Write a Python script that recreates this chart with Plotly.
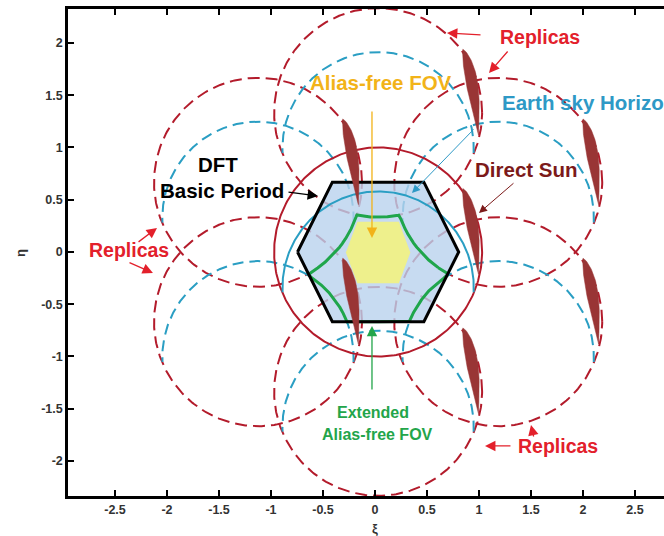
import numpy as np
import plotly.graph_objects as go

# ---------------- geometry in direction cosines (xi, eta) ----------------
origin = (0.03, 0.0)

# replica centres of the hexagonal DFT period (offsets from the origin)
replica_dx = [0.0, 1.155, 1.155, 0.0, -1.155, -1.155]
replica_dy = [1.333, 0.667, -0.667, -1.333, -0.667, 0.667]
unit_radius = 1.0

# Earth / sky horizon circle
earth_cy = -0.34
earth_radius = 0.92

# DFT basic period hexagon
period_half_width = 0.775
period_half_top = 0.44
period_half_height = 0.668

# alias-free FOV hexagon
afov_cy = -0.005
afov_half_width = 0.31
afov_half_top = 0.2
afov_half_height = 0.295

# direct sun and its aliases
sun_top = (-0.34, -0.06)
sun_bottom = (-0.19, -0.88)
sun_half_width = 0.055
sun_dx = [0.0, 0.0, 1.155, 1.155, 2.31, 1.155, 2.31]
sun_dy = [0.0, 1.333, 2.0, 0.667, 1.333, -0.667, 0.0]

# axis ticks
x_tick_vals = [-2.5, -2, -1.5, -1, -0.5, 0, 0.5, 1, 1.5, 2, 2.5]
x_tick_text = ["-2.5", "-2", "-1.5", "-1", "-0.5", "0", "0.5", "1", "1.5", "2", "2.5"]
y_tick_vals = [-2, -1.5, -1, -0.5, 0, 0.5, 1, 1.5, 2]
y_tick_text = ["-2", "-1.5", "-1", "-0.5", "0", "0.5", "1", "1.5", "2"]

# ---------------- colours ----------------
RED = "#B31B2B"
TEAL = "#2A9EC3"
HEX_FILL = "rgba(185,210,238,0.8)"
YELLOW = "#EEF08C"
GREEN = "#1FA64B"
SUN = "#993535"
TXT_RED = "#E3202B"
TXT_ALIAS = "#F2B319"
TXT_EARTH = "#2E99C6"
TXT_SUN = "#7C1A1A"
TXT_GREEN = "#23A54A"
FONT = "Liberation Sans, Arial, sans-serif"


def circle(cx, cy, r, t0=0.0, t1=2 * np.pi, n=361):
    t = np.linspace(t0, t1, n)
    return cx + r * np.cos(t), cy + r * np.sin(t)


def hexagon(cx, cy, hw, ht, hh):
    xs = [cx - hw, cx - ht, cx + ht, cx + hw, cx + ht, cx - ht, cx - hw]
    ys = [cy, cy + hh, cy + hh, cy, cy - hh, cy - hh, cy]
    return xs, ys


def leaf(p0, p1, hw, n=60):
    """Narrow crescent from p0 to p1, straight on the left, bulging right."""
    p0 = np.asarray(p0, float)
    p1 = np.asarray(p1, float)
    d = p1 - p0
    nrm = np.array([-d[1], d[0]]) / np.hypot(*d)
    t = np.linspace(0, 1, n)
    w = hw * np.sin(np.pi * t ** 0.7)
    c = p0[None, :] + t[:, None] * d[None, :]
    right = c + 1.5 * w[:, None] * nrm
    left = (c - 0.5 * w[:, None] * nrm)[::-1]
    pts = np.vstack([right, left, right[:1]])
    return pts[:, 0], pts[:, 1]


fig = go.Figure()
ox, oy = origin

# replica unit circles (dashed)
for dx, dy in zip(replica_dx, replica_dy):
    x, y = circle(ox + dx, oy + dy, unit_radius)
    fig.add_trace(go.Scatter(x=x, y=y, mode="lines",
                             line=dict(color=RED, width=2, dash="12px,6px"),
                             hoverinfo="skip"))

# replica Earth horizons (dashed upper arcs)
for dx, dy in zip(replica_dx, replica_dy):
    x, y = circle(ox + dx, earth_cy + dy, earth_radius, -0.05, np.pi + 0.05)
    fig.add_trace(go.Scatter(x=x, y=y, mode="lines",
                             line=dict(color=TEAL, width=2, dash="11px,6px"),
                             hoverinfo="skip"))

# DFT basic period (filled hexagon)
hx, hy = hexagon(ox, oy, period_half_width, period_half_top, period_half_height)
fig.add_trace(go.Scatter(x=hx, y=hy, mode="lines", fill="toself",
                         fillcolor=HEX_FILL, line=dict(width=0),
                         hoverinfo="skip"))

# alias-free FOV
ax_, ay_ = hexagon(ox, afov_cy, afov_half_width, afov_half_top, afov_half_height)
fig.add_trace(go.Scatter(x=ax_, y=ay_, mode="lines", fill="toself",
                         fillcolor=YELLOW, line=dict(width=0),
                         hoverinfo="skip"))

# central unit circle and Earth-sky horizon
x, y = circle(ox, oy, unit_radius)
fig.add_trace(go.Scatter(x=x, y=y, mode="lines", line=dict(color=RED, width=2),
                         hoverinfo="skip"))
x, y = circle(ox, earth_cy, earth_radius, -0.05, np.pi + 0.05)
fig.add_trace(go.Scatter(x=x, y=y, mode="lines", line=dict(color=TEAL, width=2),
                         hoverinfo="skip"))


# extended alias-free FOV: traced outward from an interior point
def inside_eaf(px, py):
    ok = np.abs(py - oy) <= period_half_height
    ok &= np.abs(px - ox) <= period_half_width - (period_half_width - period_half_top) * np.abs(py - oy) / period_half_height
    for i in (0, 1, 5):
        ok &= np.hypot(px - ox - replica_dx[i], py - oy - replica_dy[i]) >= unit_radius
    for i in (2, 4):
        ok &= np.hypot(px - ox - replica_dx[i], py - earth_cy - replica_dy[i]) >= earth_radius
    return ok


theta = np.linspace(0, 2 * np.pi, 1441)
s = np.linspace(0, 1.2, 2401)
gx0, gy0 = ox, -0.15
PX = gx0 + np.outer(np.cos(theta), s)
PY = gy0 + np.outer(np.sin(theta), s)
mask = inside_eaf(PX, PY)
first_out = np.argmin(mask, axis=1)
reach = s[np.maximum(first_out - 1, 0)]
fig.add_trace(go.Scatter(x=gx0 + reach * np.cos(theta), y=gy0 + reach * np.sin(theta),
                         mode="lines", line=dict(color=GREEN, width=3),
                         hoverinfo="skip"))

# DFT basic period outline
fig.add_trace(go.Scatter(x=hx, y=hy, mode="lines", line=dict(color="black", width=3),
                         hoverinfo="skip"))

# direct sun and aliases
for dx, dy in zip(sun_dx, sun_dy):
    lx, ly = leaf((ox + sun_top[0] + dx, oy + sun_top[1] + dy),
                  (ox + sun_bottom[0] + dx, oy + sun_bottom[1] + dy), sun_half_width)
    fig.add_trace(go.Scatter(x=lx, y=ly, mode="lines", fill="toself",
                             fillcolor=SUN, line=dict(color=SUN, width=0.5),
                             hoverinfo="skip"))

# ---------------- labels and arrows ----------------
def label(x, y, text, color, size=20, xanchor="center"):
    fig.add_annotation(x=x, y=y, text=text, showarrow=False, xanchor=xanchor,
                       yanchor="middle",
                       font=dict(family=FONT, size=size, color=color, weight="bold"))


def arrow(tail, tip, color, width=1.3):
    fig.add_annotation(x=tip[0], y=tip[1], ax=tail[0], ay=tail[1],
                       xref="x", yref="y", axref="x", ayref="y", text="",
                       showarrow=True, arrowhead=2, arrowsize=1.6,
                       arrowwidth=width, arrowcolor=color)


label(1.587, 2.06, "Replicas", TXT_RED, size=19.5)
arrow((1.029, 2.077), (0.692, 2.096), TXT_RED)
arrow((1.288, 1.933), (1.096, 1.713), TXT_RED)

label(0.058, 1.62, "Alias-free FOV", TXT_ALIAS, size=20.5)
arrow((-0.029, 1.359), (-0.029, 0.134), TXT_ALIAS)

label(1.20, 1.43, "Earth sky Horizon", TXT_EARTH, size=20.5, xanchor="left")
arrow((0.962, 1.187), (0.356, 0.565), TXT_EARTH, width=1.0)

label(-1.51, 0.835, "DFT", "black", size=20.5)
label(-1.47, 0.585, "Basic Period", "black", size=20.5)
arrow((-0.846, 0.574), (-0.548, 0.536), "black")

label(1.46, 0.785, "Direct Sun", TXT_SUN, size=20.5)
arrow((1.346, 0.670), (1.0, 0.373), TXT_SUN, width=1.0)

label(-2.365, 0.02, "Replicas", TXT_RED, size=19.5)
arrow((-2.288, 0.086), (-2.096, 0.230), TXT_RED)
arrow((-2.375, -0.096), (-2.135, -0.201), TXT_RED)

label(-0.02, -1.54, "Extended", TXT_GREEN, size=16)
label(0.02, -1.745, "Alias-free FOV", TXT_GREEN, size=16)
arrow((-0.029, -1.330), (-0.029, -0.708), TXT_GREEN)

label(1.76, -1.856, "Replicas", TXT_RED, size=19.5)
arrow((1.317, -1.856), (1.058, -1.856), TXT_RED)
arrow((1.529, -1.78), (1.50, -1.656), TXT_RED)

# axis titles
fig.add_annotation(xref="paper", yref="paper", x=0.515, y=-0.066, text="ξ",
                   xanchor="center", yanchor="middle", showarrow=False,
                   font=dict(family=FONT, size=13, color="#333", weight="bold"))
fig.add_annotation(xref="paper", yref="paper", x=-0.079, y=0.499, text="η",
                   xanchor="center", yanchor="middle", textangle=-90, showarrow=False,
                   font=dict(family=FONT, size=13, color="#333", weight="bold"))

tick_font = dict(family=FONT, size=12.5, color="#333", weight="bold")
fig.update_xaxes(range=[-2.952, 2.779], tickvals=x_tick_vals, ticktext=x_tick_text,
                 showgrid=False, zeroline=False, showline=True, linewidth=2.5,
                 linecolor="black", mirror="ticks", ticks="inside", ticklen=6,
                 tickwidth=1.5, tickcolor="black", tickfont=tick_font)
fig.update_yaxes(range=[-2.335, 2.325], tickvals=y_tick_vals, ticktext=y_tick_text,
                 showgrid=False, zeroline=False, showline=True, linewidth=2.5,
                 linecolor="black", mirror=False, ticks="inside", ticklen=6,
                 tickwidth=1.5, tickcolor="black", tickfont=tick_font)

fig.update_layout(width=664, height=536, showlegend=False,
                  margin=dict(l=68, r=0, t=9, b=40),
                  plot_bgcolor="white", paper_bgcolor="white")

fig.write_html("out.html")
